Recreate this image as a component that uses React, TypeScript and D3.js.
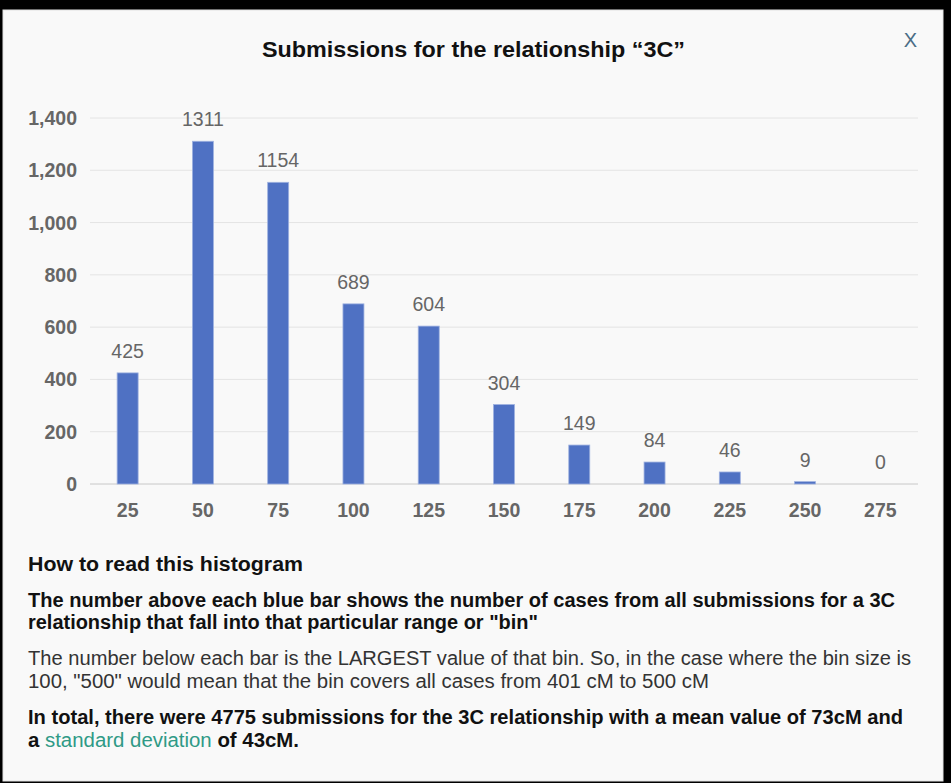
import React from "react";
import * as d3 from "d3";

const categories = ["25", "50", "75", "100", "125", "150", "175", "200", "225", "250", "275"];
const counts = [425, 1311, 1154, 689, 604, 304, 149, 84, 46, 9, 0];
const yTicks = [0, 200, 400, 600, 800, 1000, 1200, 1400];
const title = "Submissions for the relationship \u201c3C\u201d";

const W = 951;
const H = 783;
const FONT = "'Liberation Sans', Arial, Helvetica, sans-serif";

export default function App() {
  const x = d3.scaleBand<string>().domain(categories).range([90, 918]).paddingInner(0.72).paddingOuter(0.36);
  const y = d3.scaleLinear().domain([0, 1400]).range([484, 118]);
  const fmt = d3.format(",");
  const bw = 21;
  const adj = "spacingAndGlyphs";

  return (
    <div style={{ position: "fixed", left: 0, top: 0, width: W, height: H }}>
      <svg width={W} height={H} style={{ display: "block" }} fontFamily={FONT}>
        <rect x={0} y={0} width={W} height={H} fill="#000" />
        <rect x={3} y={10} width={940} height={771} fill="#f9f9f9" stroke="#e2e2e2" strokeWidth={1} />
        <text x={262} y={57} fontSize={22.5} fontWeight="bold" fill="#111" textLength={423} lengthAdjust={adj}>{title}</text>
        <text x={910.5} y={47} textAnchor="middle" fontSize={20} fill="#4b6d86">X</text>

        {yTicks.map((t) => (
          <g key={t}>
            <line x1={90} x2={918} y1={y(t)} y2={y(t)} stroke={t === 0 ? "#c8c8c8" : "#e4e4e4"} strokeWidth={1} />
            <text x={77} y={y(t) + 7} textAnchor="end" fontSize={19.5} fontWeight="bold" fill="#666">{fmt(t)}</text>
          </g>
        ))}

        {categories.map((c, i) => {
          const cx = (x(c) as number) + x.bandwidth() / 2;
          const v = counts[i];
          const top = y(v);
          return (
            <g key={c}>
              {v > 0 && (
                <rect x={cx - bw / 2} y={top} width={bw} height={y(0) - top} fill="#4f71c3" stroke="#9fb2e0" strokeWidth={0.8} />
              )}
              <text x={cx} y={top - 15} textAnchor="middle" fontSize={19.5} fill="#666">{v}</text>
              <text x={cx} y={517} textAnchor="middle" fontSize={19.5} fontWeight="bold" fill="#666">{c}</text>
            </g>
          );
        })}

        <g fontSize={19.5} fill="#111">
          <text x={28} y={571} fontWeight="bold" textLength={275} lengthAdjust={adj}>How to read this histogram</text>
          <text x={28} y={607} fontWeight="bold" textLength={867} lengthAdjust={adj}>The number above each blue bar shows the number of cases from all submissions for a 3C</text>
          <text x={28} y={629} fontWeight="bold" textLength={510} lengthAdjust={adj}>relationship that fall into that particular range or "bin"</text>
          <text x={28} y={665} fill="#333" textLength={883} lengthAdjust={adj}>The number below each bar is the LARGEST value of that bin. So, in the case where the bin size is</text>
          <text x={28} y={688} fill="#333" textLength={681} lengthAdjust={adj}>100, "500" would mean that the bin covers all cases from 401 cM to 500 cM</text>
          <text x={28} y={724} fontWeight="bold" textLength={875} lengthAdjust={adj}>In total, there were 4775 submissions for the 3C relationship with a mean value of 73cM and</text>
          <text x={28} y={747} fontWeight="bold" textLength={271} lengthAdjust={adj}>
            a <tspan fontWeight="normal" fill="#2f9a86">standard deviation</tspan> of 43cM.
          </text>
        </g>
      </svg>
    </div>
  );
}
